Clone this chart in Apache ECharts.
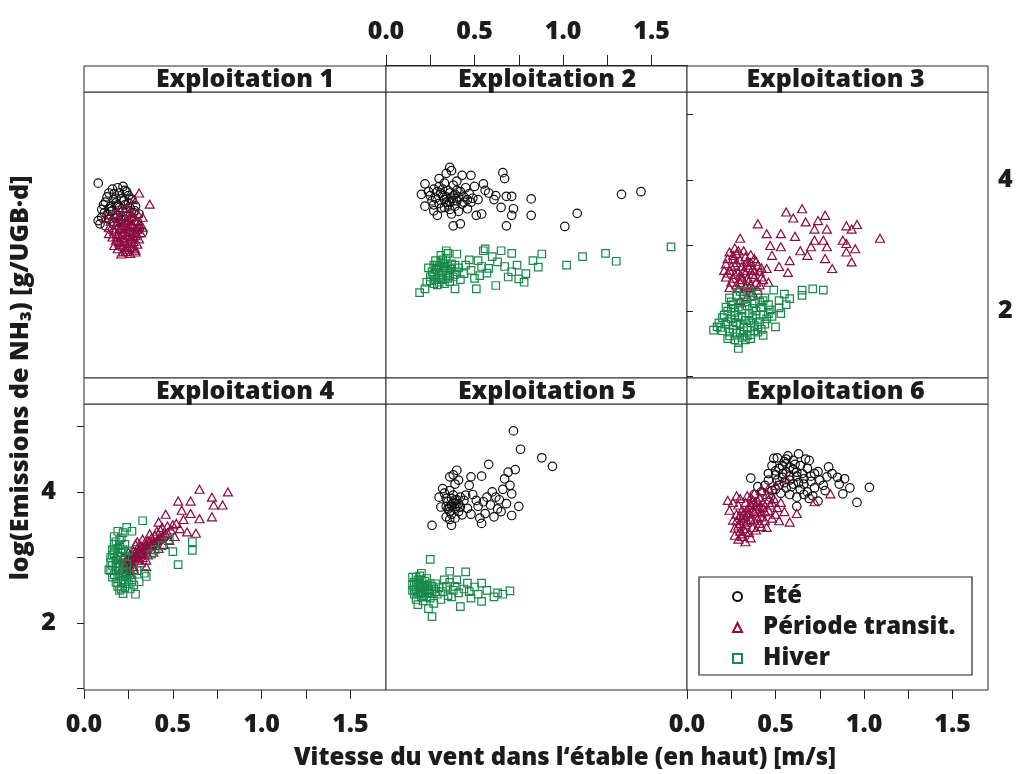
<!DOCTYPE html>
<html>
<head>
<meta charset="utf-8">
<script src="https://cdn.jsdelivr.net/npm/echarts@6/dist/echarts.min.js"></script>
<style>
  html, body { margin: 0; padding: 0; background: #fff; }
  #chart { width: 1022px; height: 774px; }
</style>
</head>
<body>
<div id="chart"></div>
<script>
// Facet titles, season names and axis ticks
const panelTitles = ['Exploitation 1', 'Exploitation 2', 'Exploitation 3',
                     'Exploitation 4', 'Exploitation 5', 'Exploitation 6'];
const seasons = ['Eté', 'Période transit.', 'Hiver'];
const xTicks = [0, 0.25, 0.5, 0.75, 1, 1.25, 1.5];
const xLabels = [0, 0.5, 1, 1.5];
const yTicks = [1, 2, 3, 4, 5];
const yLabels = [2, 4];

// [wind speed m/s, log emission] per farm and season
const ete1 = [[0.08,3.95],[0.16,3.86],[0.22,3.90],[0.23,3.84],[0.19,3.88],[0.14,3.80],[0.17,3.79],[0.13,3.74],[0.21,3.71],[0.25,3.76],[0.27,3.70],[0.12,3.66],[0.18,3.65],[0.23,3.62],[0.15,3.60],[0.20,3.58],[0.26,3.57],[0.10,3.55],[0.16,3.53],[0.22,3.52],[0.28,3.50],[0.31,3.48],[0.13,3.47],[0.19,3.46],[0.24,3.44],[0.10,3.43],[0.08,3.38],[0.09,3.33],[0.14,3.40],[0.21,3.39],[0.27,3.41],[0.30,3.36],[0.17,3.35],[0.23,3.31],[0.12,3.30],[0.26,3.28],[0.33,3.20],[0.31,3.25],[0.20,3.27],[0.15,3.52],[0.25,3.65],[0.29,3.60],[0.18,3.72],[0.11,3.62],[0.24,3.82],[0.20,3.80],[0.165,3.70],[0.225,3.68],[0.26,3.72],[0.14,3.56],[0.19,3.62],[0.115,3.50],[0.285,3.53],[0.175,3.42]];
const trans1 = [[0.31,3.80],[0.37,3.63],[0.28,3.70],[0.24,3.58],[0.20,3.55],[0.26,3.52],[0.30,3.49],[0.17,3.48],[0.22,3.46],[0.27,3.44],[0.33,3.43],[0.19,3.41],[0.245,3.39],[0.29,3.38],[0.15,3.37],[0.21,3.35],[0.26,3.34],[0.31,3.33],[0.18,3.31],[0.23,3.30],[0.28,3.29],[0.14,3.27],[0.20,3.26],[0.25,3.25],[0.30,3.24],[0.17,3.22],[0.22,3.21],[0.27,3.20],[0.32,3.19],[0.19,3.17],[0.24,3.16],[0.29,3.15],[0.16,3.13],[0.21,3.12],[0.26,3.11],[0.31,3.10],[0.18,3.08],[0.23,3.07],[0.28,3.06],[0.20,3.04],[0.25,3.03],[0.30,3.02],[0.17,3.00],[0.22,2.99],[0.27,2.98],[0.19,2.95],[0.24,2.94],[0.29,2.93],[0.22,2.90],[0.21,2.87],[0.29,2.90],[0.26,2.88],[0.14,3.18],[0.33,3.28],[0.12,3.42],[0.195,3.44],[0.235,3.37],[0.275,3.32],[0.215,3.28],[0.255,3.22],[0.295,3.18],[0.185,3.14],[0.225,3.10],[0.265,3.05],[0.205,3.01],[0.245,2.97],[0.285,2.96],[0.235,3.25],[0.275,3.14],[0.215,3.18],[0.255,3.42],[0.305,3.28],[0.165,3.25],[0.195,3.06],[0.235,2.91]];

const ete2 = [[0.22,3.94],[0.36,4.19],[0.37,4.14],[0.34,4.10],[0.48,4.07],[0.43,4.07],[0.27,3.86],[0.25,3.76],[0.27,3.53],[0.29,3.46],[0.37,3.48],[0.38,3.30],[0.42,3.33],[0.51,3.46],[0.54,3.48],[0.55,3.94],[0.56,3.84],[0.62,3.76],[0.66,4.11],[0.67,4.02],[0.68,3.75],[0.71,3.75],[0.65,3.58],[0.72,3.56],[0.71,3.46],[0.68,3.30],[0.82,3.71],[0.82,3.46],[1.01,3.29],[1.08,3.49],[1.33,3.78],[1.44,3.82],[0.30,3.90],[0.33,3.95],[0.38,3.92],[0.31,3.80],[0.35,3.84],[0.39,3.78],[0.42,3.82],[0.28,3.72],[0.33,3.70],[0.37,3.72],[0.40,3.68],[0.44,3.74],[0.47,3.79],[0.30,3.64],[0.35,3.62],[0.39,3.60],[0.43,3.63],[0.48,3.66],[0.52,3.70],[0.31,3.57],[0.36,3.55],[0.41,3.52],[0.46,3.56],[0.34,3.66],[0.38,3.76],[0.45,3.88],[0.50,3.90],[0.58,3.80],[0.61,3.70],[0.24,3.82],[0.20,3.78],[0.26,3.68],[0.22,3.60],[0.40,3.98],[0.30,4.02],[0.32,3.86],[0.36,3.80],[0.34,3.74],[0.38,3.68],[0.41,3.74],[0.36,3.66],[0.32,3.76],[0.29,3.82],[0.40,3.84],[0.44,3.66],[0.27,3.62],[0.33,3.58],[0.46,3.70],[0.49,3.72]];
const hiver2 = [[0.19,2.28],[0.22,2.34],[0.23,2.44],[0.25,2.52],[0.28,2.77],[0.34,2.92],[0.40,2.87],[0.39,2.34],[0.51,2.34],[0.62,2.39],[0.55,2.92],[0.56,2.95],[0.65,2.92],[0.71,2.88],[0.88,2.87],[0.83,2.77],[0.86,2.67],[0.79,2.57],[0.78,2.44],[0.75,2.49],[0.69,2.52],[0.63,2.75],[0.58,2.65],[0.53,2.54],[0.52,2.77],[0.47,2.78],[0.44,2.57],[1.02,2.70],[1.11,2.83],[1.24,2.88],[1.30,2.76],[1.61,2.98],[0.27,2.70],[0.29,2.62],[0.31,2.75],[0.33,2.66],[0.35,2.58],[0.37,2.72],[0.30,2.55],[0.32,2.48],[0.34,2.80],[0.36,2.64],[0.38,2.52],[0.40,2.60],[0.28,2.48],[0.26,2.60],[0.33,2.42],[0.36,2.45],[0.39,2.70],[0.41,2.66],[0.31,2.85],[0.35,2.88],[0.24,2.66],[0.29,2.40],[0.42,2.48],[0.45,2.70],[0.48,2.62],[0.60,2.83],[0.67,2.68],[0.71,2.60],[0.74,2.70],[0.57,2.58],[0.50,2.50],[0.54,2.68],[0.30,2.68],[0.32,2.58],[0.34,2.62],[0.36,2.54],[0.28,2.64],[0.31,2.50],[0.33,2.72],[0.35,2.50],[0.37,2.66],[0.30,2.44],[0.27,2.56],[0.39,2.56],[0.27,2.42],[0.25,2.46],[0.32,2.78],[0.29,2.70]];

const trans3 = [[0.65,3.56],[0.56,3.51],[0.60,3.42],[0.67,3.36],[0.78,3.46],[0.74,3.38],[0.72,3.25],[0.79,3.25],[0.90,3.30],[0.96,3.32],[0.93,3.25],[1.09,3.11],[0.88,3.08],[0.90,3.03],[0.95,2.95],[0.90,2.90],[0.93,2.75],[0.82,2.65],[0.78,2.80],[0.79,2.98],[0.77,3.08],[0.72,3.08],[0.70,2.98],[0.68,2.85],[0.64,2.92],[0.61,3.14],[0.53,3.18],[0.45,3.18],[0.40,3.33],[0.30,3.11],[0.47,3.00],[0.53,2.98],[0.48,2.85],[0.58,2.77],[0.52,2.68],[0.57,2.59],[0.45,2.65],[0.42,2.52],[0.46,2.44],[0.30,2.16],[0.40,2.32],[0.24,2.90],[0.28,2.88],[0.32,2.92],[0.36,2.86],[0.26,2.80],[0.30,2.78],[0.34,2.75],[0.38,2.80],[0.22,2.72],[0.27,2.70],[0.31,2.68],[0.35,2.66],[0.40,2.70],[0.24,2.62],[0.29,2.60],[0.33,2.58],[0.37,2.56],[0.41,2.60],[0.22,2.52],[0.26,2.50],[0.31,2.48],[0.35,2.46],[0.39,2.44],[0.28,2.40],[0.33,2.38],[0.43,2.48],[0.25,2.44],[0.30,2.55],[0.36,2.74],[0.38,2.62],[0.27,2.96],[0.33,2.83],[0.29,2.34],[0.35,2.36],[0.23,2.80],[0.25,2.68],[0.28,2.74],[0.32,2.62],[0.34,2.70],[0.37,2.64],[0.23,2.58],[0.27,2.56],[0.31,2.52],[0.34,2.50],[0.38,2.52],[0.41,2.40],[0.24,2.36],[0.30,2.44],[0.36,2.40],[0.21,2.62],[0.26,2.85],[0.29,2.92],[0.39,2.76],[0.42,2.66],[0.32,2.30],[0.37,2.28],[0.34,2.22]];
const hiver3 = [[0.15,1.71],[0.17,1.76],[0.29,1.43],[0.23,1.58],[0.22,2.06],[0.49,2.32],[0.52,2.16],[0.58,2.19],[0.53,1.96],[0.50,1.76],[0.43,1.63],[0.36,1.58],[0.65,2.32],[0.65,2.24],[0.71,2.34],[0.77,2.32],[0.24,2.20],[0.28,2.24],[0.32,2.18],[0.36,2.22],[0.40,2.26],[0.44,2.20],[0.26,2.10],[0.30,2.12],[0.34,2.08],[0.38,2.12],[0.42,2.06],[0.46,2.10],[0.23,2.00],[0.27,1.98],[0.31,2.02],[0.35,1.96],[0.39,2.00],[0.43,1.94],[0.25,1.88],[0.29,1.90],[0.33,1.86],[0.37,1.90],[0.41,1.84],[0.45,1.88],[0.22,1.80],[0.26,1.78],[0.30,1.80],[0.34,1.74],[0.38,1.78],[0.42,1.72],[0.24,1.68],[0.28,1.66],[0.32,1.70],[0.36,1.64],[0.27,1.56],[0.31,1.60],[0.20,1.90],[0.19,1.75],[0.47,2.02],[0.48,1.92],[0.40,1.68],[0.35,2.30],[0.30,2.30],[0.55,2.26],[0.56,2.10],[0.52,2.05],[0.25,2.14],[0.29,2.06],[0.33,2.14],[0.37,2.04],[0.41,2.14],[0.27,1.94],[0.31,1.92],[0.35,1.86],[0.39,1.94],[0.23,1.84],[0.28,1.82],[0.32,1.76],[0.36,1.82],[0.40,1.76],[0.26,1.72],[0.30,1.68],[0.34,1.62],[0.38,1.70],[0.29,1.52],[0.33,1.56],[0.44,1.80],[0.21,1.94],[0.25,2.04],[0.46,1.96],[0.43,2.16],[0.24,1.62],[0.20,1.70],[0.18,1.82]];

const trans4 = [[0.65,4.04],[0.81,4.00],[0.72,3.92],[0.73,3.80],[0.78,3.80],[0.53,3.86],[0.60,3.86],[0.72,3.62],[0.65,3.59],[0.60,3.67],[0.55,3.72],[0.46,3.66],[0.42,3.54],[0.52,3.52],[0.63,3.37],[0.58,3.39],[0.35,2.86],[0.24,2.76],[0.23,2.85],[0.25,2.92],[0.27,2.98],[0.29,3.02],[0.31,3.06],[0.33,3.10],[0.35,3.14],[0.37,3.18],[0.39,3.22],[0.41,3.26],[0.43,3.30],[0.45,3.34],[0.47,3.38],[0.49,3.42],[0.26,3.05],[0.28,3.10],[0.30,3.14],[0.32,3.18],[0.34,3.22],[0.36,3.26],[0.38,3.30],[0.40,3.34],[0.24,2.98],[0.27,2.90],[0.30,2.96],[0.33,3.00],[0.36,3.04],[0.39,3.08],[0.42,3.14],[0.45,3.20],[0.48,3.26],[0.51,3.32],[0.22,3.00],[0.25,3.08],[0.29,3.20],[0.33,3.28],[0.37,3.36],[0.41,3.40],[0.44,3.46],[0.28,2.82],[0.32,2.92],[0.35,2.96],[0.50,3.50],[0.54,3.44],[0.56,3.58],[0.47,3.48],[0.43,3.42],[0.26,2.80],[0.24,2.88],[0.26,2.95],[0.28,3.00],[0.30,3.04],[0.32,3.08],[0.34,3.12],[0.36,3.16],[0.38,3.20],[0.40,3.24],[0.42,3.28],[0.44,3.32],[0.46,3.36],[0.27,3.02],[0.29,3.08],[0.31,3.12],[0.33,3.16],[0.35,3.20],[0.37,3.24],[0.25,2.96],[0.23,2.92],[0.31,2.98],[0.34,3.05],[0.38,3.12],[0.41,3.18],[0.21,2.82],[0.22,2.92],[0.25,2.84],[0.30,3.24],[0.28,2.86],[0.26,2.74]];
const hiver4 = [[0.33,3.56],[0.22,3.38],[0.20,3.27],[0.17,3.06],[0.14,2.81],[0.22,2.45],[0.29,2.44],[0.31,2.63],[0.35,2.71],[0.50,3.09],[0.53,2.89],[0.48,3.27],[0.61,3.24],[0.61,3.11],[0.19,2.56],[0.21,2.61],[0.17,3.20],[0.19,3.14],[0.21,3.08],[0.23,3.02],[0.18,2.96],[0.20,2.90],[0.22,2.84],[0.24,2.78],[0.16,2.88],[0.18,2.80],[0.20,2.72],[0.22,2.66],[0.24,2.70],[0.26,2.74],[0.17,3.32],[0.19,3.40],[0.21,3.30],[0.15,3.00],[0.16,2.70],[0.25,2.60],[0.27,2.66],[0.18,2.62],[0.23,3.20],[0.25,3.10],[0.15,2.92],[0.26,2.52],[0.34,2.76],[0.40,3.12],[0.44,3.18],[0.38,3.05],[0.30,2.80],[0.28,2.58],[0.20,2.50],[0.24,3.46],[0.27,3.40],[0.17,3.10],[0.19,3.02],[0.21,2.96],[0.16,3.12],[0.18,2.86],[0.20,2.80],[0.22,2.76],[0.17,2.74],[0.19,2.68],[0.21,2.64],[0.23,2.60],[0.15,2.80],[0.18,3.24],[0.20,3.18],[0.22,3.12],[0.24,2.90],[0.19,2.92],[0.16,3.04],[0.23,2.54],[0.21,2.52]];

const ete5 = [[0.72,4.93],[0.76,4.65],[0.88,4.52],[0.94,4.39],[0.58,4.42],[0.73,4.34],[0.69,4.30],[0.67,4.20],[0.70,4.10],[0.71,3.97],[0.68,3.82],[0.75,3.78],[0.71,3.64],[0.62,3.92],[0.59,3.80],[0.56,3.67],[0.54,3.52],[0.57,3.92],[0.54,4.24],[0.48,4.23],[0.47,4.10],[0.51,3.87],[0.46,3.75],[0.40,4.33],[0.36,4.23],[0.32,4.05],[0.30,3.92],[0.31,3.77],[0.34,3.62],[0.37,3.49],[0.26,3.49],[0.39,3.82],[0.42,3.77],[0.44,3.87],[0.35,3.85],[0.37,3.90],[0.39,3.75],[0.41,3.70],[0.36,3.70],[0.34,3.78],[0.38,3.95],[0.40,3.88],[0.33,3.98],[0.36,4.02],[0.39,4.12],[0.41,4.18],[0.38,4.26],[0.43,3.65],[0.45,3.95],[0.49,3.96],[0.52,3.78],[0.55,3.85],[0.60,4.00],[0.64,3.88],[0.66,4.04],[0.63,3.74],[0.36,3.58],[0.39,3.60],[0.48,3.66],[0.53,3.60],[0.61,3.62],[0.65,3.70],[0.37,3.80],[0.38,3.84],[0.36,3.77],[0.39,3.88],[0.40,3.78],[0.35,3.74],[0.41,3.82],[0.37,3.66],[0.42,3.92],[0.34,3.90]];
const hiver5 = [[0.25,2.97],[0.36,2.79],[0.45,2.78],[0.26,2.10],[0.42,2.25],[0.54,2.33],[0.61,2.40],[0.70,2.49],[0.54,2.61],[0.46,2.61],[0.40,2.66],[0.15,2.70],[0.17,2.62],[0.19,2.55],[0.21,2.48],[0.23,2.40],[0.16,2.50],[0.18,2.44],[0.20,2.66],[0.22,2.58],[0.24,2.52],[0.26,2.45],[0.28,2.60],[0.30,2.54],[0.32,2.48],[0.34,2.56],[0.36,2.62],[0.38,2.50],[0.17,2.36],[0.19,2.72],[0.21,2.34],[0.23,2.68],[0.25,2.38],[0.27,2.30],[0.29,2.44],[0.31,2.36],[0.33,2.66],[0.35,2.42],[0.37,2.40],[0.39,2.56],[0.41,2.46],[0.44,2.52],[0.47,2.48],[0.50,2.55],[0.52,2.44],[0.57,2.50],[0.63,2.46],[0.66,2.44],[0.48,2.38],[0.20,2.76],[0.15,2.58],[0.18,2.28],[0.24,2.22],[0.16,2.62],[0.18,2.58],[0.20,2.54],[0.22,2.50],[0.17,2.52],[0.19,2.46],[0.21,2.42],[0.23,2.56],[0.25,2.60],[0.27,2.52],[0.16,2.44],[0.18,2.66],[0.20,2.40],[0.24,2.46],[0.26,2.56],[0.28,2.48],[0.22,2.64],[0.17,2.70],[0.19,2.60],[0.21,2.56],[0.15,2.50]];

const ete6 = [[1.03,4.07],[0.96,3.84],[0.92,4.06],[0.88,3.97],[0.89,4.20],[0.85,4.22],[0.80,4.38],[0.79,4.23],[0.77,4.10],[0.74,4.31],[0.69,4.48],[0.63,4.58],[0.51,4.52],[0.49,4.51],[0.56,4.43],[0.36,4.21],[0.62,3.78],[0.69,3.90],[0.48,4.40],[0.52,4.36],[0.56,4.30],[0.60,4.34],[0.64,4.40],[0.68,4.36],[0.72,4.28],[0.50,4.26],[0.54,4.22],[0.58,4.18],[0.62,4.24],[0.66,4.20],[0.70,4.16],[0.46,4.18],[0.52,4.10],[0.56,4.06],[0.60,4.12],[0.64,4.04],[0.68,4.00],[0.72,4.06],[0.44,4.10],[0.48,4.02],[0.58,3.96],[0.62,3.92],[0.66,3.96],[0.42,4.00],[0.40,4.08],[0.75,4.18],[0.82,4.28],[0.86,4.12],[0.78,4.02],[0.55,4.46],[0.60,4.48],[0.65,4.28],[0.53,3.98],[0.47,3.92],[0.38,3.96],[0.71,3.94],[0.74,3.86],[0.57,4.55],[0.67,4.50],[0.50,4.32],[0.54,4.28],[0.58,4.24],[0.62,4.30],[0.54,4.40],[0.58,4.38],[0.51,4.18],[0.55,4.14],[0.59,4.08],[0.63,4.14],[0.46,4.28],[0.50,4.04],[0.61,4.42],[0.66,4.12],[0.70,4.24],[0.56,4.50]];
const trans6 = [[0.23,3.87],[0.26,3.84],[0.81,3.97],[0.72,3.85],[0.58,3.54],[0.62,3.67],[0.33,3.24],[0.27,3.34],[0.26,3.57],[0.42,3.47],[0.56,4.20],[0.30,3.90],[0.34,3.94],[0.38,3.98],[0.42,4.02],[0.46,4.06],[0.50,4.10],[0.29,3.80],[0.33,3.84],[0.37,3.88],[0.41,3.92],[0.45,3.96],[0.49,3.90],[0.31,3.72],[0.35,3.76],[0.39,3.80],[0.43,3.84],[0.47,3.80],[0.51,3.76],[0.30,3.64],[0.34,3.66],[0.38,3.70],[0.42,3.68],[0.46,3.72],[0.50,3.66],[0.32,3.56],[0.36,3.58],[0.40,3.60],[0.44,3.56],[0.48,3.60],[0.29,3.48],[0.33,3.50],[0.37,3.46],[0.41,3.52],[0.30,3.40],[0.35,3.38],[0.39,3.42],[0.31,3.32],[0.28,3.66],[0.53,3.84],[0.45,3.46],[0.52,3.56],[0.36,3.30],[0.28,3.94],[0.24,3.72],[0.55,3.70],[0.31,3.60],[0.33,3.62],[0.35,3.68],[0.37,3.72],[0.39,3.74],[0.41,3.78],[0.43,3.76],[0.32,3.68],[0.34,3.74],[0.36,3.80],[0.38,3.84],[0.40,3.86],[0.30,3.52],[0.34,3.54],[0.38,3.56],[0.42,3.62],[0.44,3.70],[0.46,3.88],[0.48,3.84],[0.36,3.92],[0.32,3.44],[0.28,3.56],[0.27,3.45],[0.31,3.36],[0.29,3.28],[0.33,3.40]];

// season data for each farm: [Eté, Période transit., Hiver]
const panelData = [
  [ete1, trans1, []],
  [ete2, [], hiver2],
  [[], trans3, hiver3],
  [[], trans4, hiver4],
  [ete5, [], hiver5],
  [ete6, trans6, []]
];

const FONT = '"Open Sans", "Noto Sans", "DejaVu Sans", sans-serif';
const WEIGHT = 800;
const INK = '#1c1c1c';
const seasonStyle = [
  { symbol: 'circle',   size: 8.5,    color: '#111111' },
  { symbol: 'triangle', size: [9, 8], color: '#8c0c42' },
  { symbol: 'rect',     size: 7.5,    color: '#17894a' }
];

// panel geometry (pixels)
const colX = [84, 386, 687];
const colW = [302, 301, 301];
const rowY = [92, 404];
const rowH = 286;
const stripH = 26;
const xRange = [0, 1.7];
const yRange = [0.98, 5.34];

const grids = [], xAxes = [], yAxes = [], series = [], graphics = [];
const tickLabelStyle = { fontFamily: FONT, fontWeight: WEIGHT, fontSize: 25, color: INK };

panelTitles.forEach((title, i) => {
  const r = Math.floor(i / 3), c = i % 3;
  grids.push({
    left: colX[c], top: rowY[r], width: colW[c], height: rowH,
    show: true, borderColor: '#2a2a2a', borderWidth: 1, backgroundColor: '#fff'
  });

  const xBottom = (i === 3 || i === 5);
  const xTop = (i === 1);
  xAxes.push({
    type: 'value', gridIndex: i, min: xRange[0], max: xRange[1],
    position: xTop ? 'top' : 'bottom',
    offset: xTop ? stripH : 0,
    splitLine: { show: false },
    axisLine: { show: xTop, onZero: false, lineStyle: { color: '#222', width: 2 } },
    axisTick: { show: xTop || xBottom, customValues: xTicks, length: xTop ? 11 : 9,
                lineStyle: { color: '#222', width: 1 } },
    axisLabel: { show: xTop || xBottom, customValues: xLabels, margin: xTop ? 22 : 22,
                 formatter: v => v.toFixed(1), ...tickLabelStyle }
  });

  const yRight = (i === 2);
  const yLeft = (i === 3);
  yAxes.push({
    type: 'value', gridIndex: i, min: yRange[0], max: yRange[1],
    position: yRight ? 'right' : 'left',
    splitLine: { show: false },
    axisLine: { show: false },
    axisTick: { show: yRight || yLeft, customValues: yTicks, length: yRight ? 6 : 7,
                lineStyle: { color: '#222', width: 1 } },
    axisLabel: { show: yRight || yLeft, customValues: yLabels, margin: yRight ? 10 : 28,
                 formatter: v => String(v), ...tickLabelStyle }
  });

  // season order for drawing: summer, winter, then transition on top
  [0, 2, 1].forEach(s => {
    const pts = panelData[i][s];
    if (!pts.length) return;
    const st = seasonStyle[s];
    series.push({
      type: 'scatter', name: seasons[s], xAxisIndex: i, yAxisIndex: i,
      data: pts, symbol: st.symbol, symbolSize: st.size,
      itemStyle: { color: 'rgba(255,255,255,0)', borderColor: st.color, borderWidth: 1.2, opacity: 1 },
      emphasis: { disabled: true }, silent: true, z: 3 + s
    });
  });

  // strip above the panel with the farm name
  graphics.push({
    type: 'rect', z: 2,
    shape: { x: colX[c], y: rowY[r] - stripH, width: colW[c], height: stripH },
    style: { fill: '#fff', stroke: '#2a2a2a', lineWidth: 1 }
  });
  const textX = [245, 547, 835.5][c];
  graphics.push({
    type: 'text', z: 3, x: textX, y: rowY[r] - stripH / 2 + 1,
    style: { text: title, align: 'center', verticalAlign: 'middle',
             font: WEIGHT + ' 25px ' + FONT, fill: INK }
  });
});

// legend frame
graphics.push({
  type: 'rect', z: 10,
  shape: { x: 699, y: 577, width: 273, height: 98 },
  style: { fill: '#fff', stroke: '#222', lineWidth: 1.2 }
});

// axis titles
graphics.push({
  type: 'text', z: 3, x: 565, y: 758,
  style: { text: 'Vitesse du vent dans l‘étable (en haut) [m/s]', align: 'center',
           verticalAlign: 'middle', font: WEIGHT + ' 24px ' + FONT, fill: INK }
});
graphics.push({
  type: 'text', z: 3, x: 21, y: 378, rotation: Math.PI / 2,
  style: { text: 'log(Emissions de NH₃) [g/UGB·d]', align: 'center',
           verticalAlign: 'middle', font: WEIGHT + ' 25px ' + FONT, fill: INK }
});

const chart = echarts.init(document.getElementById('chart'), null, { renderer: 'canvas' });
chart.setOption({
  animation: false,
  backgroundColor: '#fff',
  grid: grids,
  xAxis: xAxes,
  yAxis: yAxes,
  series: series,
  graphic: { elements: graphics },
  legend: {
    data: seasons, orient: 'vertical', left: 727, top: 576, z: 20,
    selectedMode: false, itemWidth: 9, itemHeight: 9, itemGap: 0,
    textStyle: { fontFamily: FONT, fontWeight: WEIGHT, fontSize: 24, color: INK,
                 lineHeight: 31, padding: [0, 0, 0, 16] }
  }
});
</script>
</body>
</html>
